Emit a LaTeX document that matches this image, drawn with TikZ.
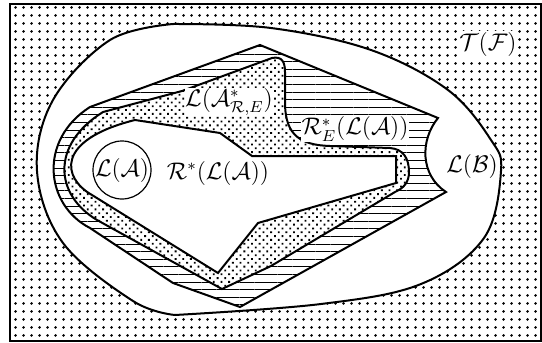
\documentclass[tikz,border=0pt]{standalone}
\usepackage{amsmath}
\usepackage{amssymb}
\usepackage{tikz}
\usetikzlibrary{patterns.meta}

\begin{document}
\begin{tikzpicture}[
  x=0.5pt, y=-0.5pt,
  font=\large,
  region/.style={
    draw=black, line width=1pt,
    line join=miter},
  sparsedots/.style={
    pattern={Dots[distance=4pt, radius=0.8pt]}},
  densedots/.style={
    preaction={fill=white},
    pattern={Dots[distance=2.7pt, angle=45, radius=0.65pt]}},
  hlines/.style={
    preaction={fill=white},
    pattern={Lines[distance=3.8pt, angle=0,
      line width=0.5pt]}},
  lab/.style={fill=white, inner sep=0.3pt}
]
\useasboundingbox (0,0) rectangle (542,343);

% frame
\draw[line width=1pt, sparsedots] (10,4) rectangle (541,341);

% L(B)
\draw[region, fill=white]
  plot[smooth, tension=0.6] coordinates {(173,24) (271,28) (371,50)
    (448,90) (491,140) (501,171) (484,238) (421,284) (321,304) (175,315)}
  -- plot[smooth, tension=0.6] coordinates {(175,315) (133,301) (63,243)
    (37,171) (53,100) (110,40) (173,24)}
  -- cycle;

% R*_E(L(A))
\draw[region, hlines]
  (90,107) -- (260,45) -- (438,118)
  .. controls (420,140) and (420,175) .. (446,192)
  -- (240,307) -- (173,283) -- (90,228)
  .. controls (45,205) and (38,140) .. (90,107) -- cycle;

% L(A*_{R,E})
\draw[region, densedots]
  (103,112) -- (182,91) -- (272,58)
  .. controls (282,56) and (285,62) .. (285,72) -- (285,105)
  .. controls (286,135) and (300,145) .. (330,146) -- (390,148)
  .. controls (403,149) and (409,158) .. (409,172)
  .. controls (409,182) and (404,188) .. (395,192)
  -- (271,266) -- (222,289) -- (97,220)
  .. controls (55,195) and (50,145) .. (103,112) -- cycle;

% R*(L(A))
\draw[region, fill=white]
  (135,120) -- (220,133) -- (252,156) -- (396,156) -- (396,183)
  -- (258,223) -- (218,273) -- (92,195)
  .. controls (62,178) and (55,140) .. (135,120) -- cycle;

\draw[line width=0.6pt, fill=white] (122,170) circle[radius=14.5pt];

\node[lab] (tf) at (488,44) {$\mathcal{T}(\mathcal{F})$};
\node (lb) at (472,166) {$\mathcal{L}(\mathcal{B})$};
\node[lab] (lastar) at (229,102) {$\mathcal{L}(\mathcal{A}^*_{\mathcal{R},E})$};
\node[lab] (restar) at (355,129) {$\mathcal{R}^*_E(\mathcal{L}(\mathcal{A}))$};
\node (rstar) at (218,173) {$\mathcal{R}^*(\mathcal{L}(\mathcal{A}))$};
\node (la) at (122,170) {$\mathcal{L}(\mathcal{A})$};
\end{tikzpicture}
\end{document}
